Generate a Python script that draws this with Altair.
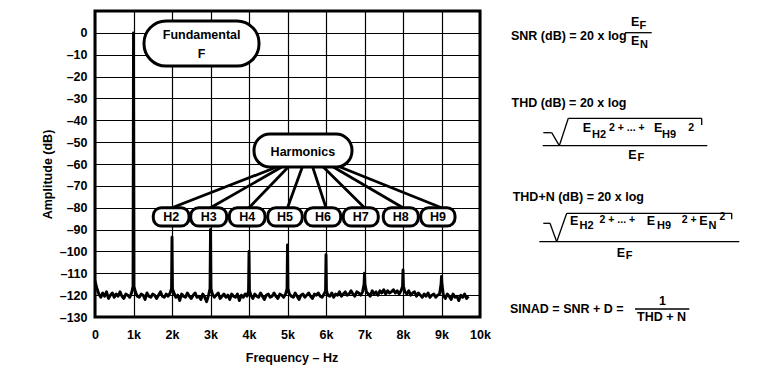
import altair as alt
import pandas as pd

FONT = "Liberation Sans"

# ---------------- spectrum data (kHz, dB) ----------------
NOISE_STEP_KHZ = 0.05
noise_db = [
    -113.5, -117.0, -119.5, -121.0, -119.0, -120.5, -118.5, -121.5, -120.0, -119.0,
    -121.0, -119.5, -120.5, -118.5, -120.5, -121.5, -119.5, -120.0, -121.0, -119.0,
    -119.0, -118.5, -120.5, -121.0, -119.5, -120.0, -122.0, -119.0, -120.5, -121.0,
    -119.5, -120.0, -121.5, -120.0, -118.5, -120.5, -121.0, -119.5, -120.5, -119.0,
    -118.5, -119.0, -121.0, -120.0, -122.5, -119.5, -120.5, -121.0, -119.0, -120.5,
    -121.5, -120.0, -119.0, -121.0, -120.5, -122.0, -119.5, -121.0, -123.0, -120.0,
    -119.0, -119.5, -121.0, -120.0, -119.0, -121.5, -120.5, -119.5, -121.0, -120.0,
    -122.0, -119.5, -120.5, -121.0, -119.5, -122.5, -120.0, -121.0, -119.5, -120.5,
    -119.0, -120.0, -121.5, -119.5, -120.5, -121.0, -119.0, -120.5, -122.0, -120.0,
    -119.5, -121.0, -120.5, -119.0, -120.5, -121.5, -119.5, -120.0, -121.0, -119.5,
    -119.0, -119.5, -120.5, -121.0, -119.0, -120.5, -122.0, -120.0, -119.5, -121.0,
    -120.0, -119.0, -120.5, -121.5, -119.5, -120.0, -119.0, -120.5, -121.0, -119.5,
    -119.0, -120.0, -120.5, -119.0, -121.0, -119.5, -120.0, -118.5, -120.5, -119.5,
    -118.5, -120.0, -119.5, -118.0, -119.5, -120.5, -118.5, -119.0, -120.0, -118.5,
    -119.0, -118.5, -119.5, -120.5, -118.0, -119.5, -118.5, -120.0, -118.0, -119.0,
    -117.5, -119.5, -118.0, -119.0, -118.5, -117.5, -119.0, -118.0, -119.5, -118.0,
    -118.0, -118.5, -119.5, -118.0, -120.0, -119.0, -118.5, -120.5, -119.0, -120.0,
    -121.0, -119.5, -120.5, -119.0, -121.0, -120.0, -119.5, -121.0, -120.0, -119.5,
    -119.0, -120.0, -121.5, -119.5, -120.5, -122.0, -119.5, -121.0, -120.5, -122.5,
    -120.0, -121.0, -119.5, -121.5, -120.5,
]
harmonic_khz = [1, 2, 3, 4, 5, 6, 7, 8, 9]
harmonic_peak_db = [0.0, -93.5, -90.0, -100.0, -97.0, -101.5, -110.0, -108.5, -111.5]
harmonic_base_db = [-116.0, -117.0, -117.0, -118.0, -117.0, -118.0, -115.0, -116.0, -115.0]
SPIKE_HALF_WIDTH = 0.012

rows = []
peak_of = dict(zip(harmonic_khz, zip(harmonic_peak_db, harmonic_base_db)))
for i, v in enumerate(noise_db):
    f = round(i * NOISE_STEP_KHZ, 3)
    if f in peak_of:
        pk, base = peak_of[f]
        rows += [(f - SPIKE_HALF_WIDTH, base), (f, pk), (f + SPIKE_HALF_WIDTH, base)]
    else:
        rows.append((f, v))
spectrum = pd.DataFrame(rows, columns=["f", "db"])

# ---------------- annotations (data coordinates) ----------------
h_labels = ["H2", "H3", "H4", "H5", "H6", "H7", "H8", "H9"]
h_box_left = [1.514, 2.486, 3.488, 4.486, 5.455, 6.449, 7.488, 8.460]
h_box_right = [2.442, 3.421, 4.416, 5.384, 6.382, 7.358, 8.397, 9.351]
h_box_top, h_box_bottom = -80.0, -88.4
h_line_start = [4.72, 4.85, 5.02, 5.385, 5.655, 5.93, 6.19, 6.364]
harm_box = dict(f=4.13, f2=6.675, db=-46.3, db2=-61.4)
fund_box = dict(f=1.273, f2=4.26, db=5.4, db2=-15.2)

h_boxes = pd.DataFrame({"f": h_box_left, "f2": h_box_right,
                        "db": h_box_top, "db2": h_box_bottom, "label": h_labels})
connectors = pd.DataFrame({"f": h_line_start, "db": harm_box["db2"],
                           "f2": harmonic_khz[1:], "db2": h_box_top})
box_text = pd.DataFrame({
    "label": ["Fundamental", "F", "Harmonics"] + h_labels,
    "f": [2.77, 2.77, 5.40] + [(a + b) / 2 for a, b in zip(h_box_left, h_box_right)],
    "db": [-1.1, -9.6, -54.6] + [-84.3] * 8,
})

# ---------------- formula layout (page pixels -> data coords) ----------------
OX, OY = 95, 11
W, H = 385, 306
X0, X1 = 0, 10
Y0, Y1 = -130, 10


def px_to_f(px):
    return X0 + (px - OX) * (X1 - X0) / W


def py_to_db(py):
    return Y1 - (py - OY) * (Y1 - Y0) / H


# (text, left x px, centre y px, size class)
pieces = [
    ("SNR (dB) = 20 x log", 511, 35.5, "big"),
    ("E", 631, 22, "big"), ("F", 639.5, 25.5, "sub"),
    ("E", 631, 40.5, "big"), ("N", 640, 45, "sub"),
    ("THD (dB) = 20 x log", 511.5, 102.5, "big"),
    ("E", 582.7, 128.3, "big"), ("H2", 592, 134.5, "sub"), ("2 + ... +", 609, 128, "small"),
    ("E", 654, 128.3, "big"), ("H9", 662, 134.5, "sub"), ("2", 688.3, 128, "small"),
    ("E", 628.3, 155, "big"), ("F", 637.5, 158.3, "sub"),
    ("THD+N (dB) = 20 x log", 512.7, 196.8, "big"),
    ("E", 570, 220.5, "big"), ("H2", 579.5, 226.3, "sub"), ("2 + ... +", 599.5, 219.5, "small"),
    ("E", 646.7, 220.5, "big"), ("H9", 657, 226.3, "sub"), ("2 +", 681.7, 219.5, "small"),
    ("E", 699.3, 220.5, "big"), ("N", 708.5, 226.3, "sub"), ("2", 719.5, 216.5, "small"),
    ("E", 616.7, 252.7, "big"), ("F", 625.8, 256, "sub"),
    ("SINAD = SNR + D =", 510, 308.5, "big"),
    ("1", 659, 300.5, "big"), ("THD + N", 637, 316.8, "big"),
]
formula_text = pd.DataFrame([(t, px_to_f(x), py_to_db(y), c) for t, x, y, c in pieces],
                            columns=["t", "f", "db", "cls"])

polylines = [
    [(625, 32.7), (651.7, 32.7)],
    [(543.3, 132.7), (551.7, 132.7), (559.3, 145.7), (568.3, 118.3), (701.7, 118.3), (701.7, 125)],
    [(542.7, 145.7), (707.3, 145.7)],
    [(543.3, 223.3), (550, 223.3), (556.7, 241.7), (566.7, 213.3), (731.7, 213.3), (731.7, 219.3)],
    [(539.3, 241.7), (739.3, 241.7)],
    [(635, 309), (689.3, 309)],
]
segs = []
for pl in polylines:
    for (x1, y1), (x2, y2) in zip(pl[:-1], pl[1:]):
        segs.append((px_to_f(x1), py_to_db(y1), px_to_f(x2), py_to_db(y2)))
formula_lines = pd.DataFrame(segs, columns=["f", "db", "f2", "db2"])

# ---------------- chart ----------------
xscale = alt.Scale(domain=[X0, X1], nice=False, zero=False)
yscale = alt.Scale(domain=[Y0, Y1], nice=False, zero=False)

base_axis = dict(labelFont=FONT, labelFontSize=12.5, labelFontWeight="bold", labelColor="black",
                 titleFont=FONT, titleFontSize=12.5, titleFontWeight="bold", titleColor="black",
                 grid=True, gridColor="black", gridWidth=1.2, gridOpacity=1,
                 domain=False, ticks=False, labelFlush=False, labelOverlap=False)

x_axis = alt.Axis(values=list(range(0, 11)), title="Frequency – Hz",
                  labelExpr="datum.value == 0 ? '0' : datum.value + 'k'",
                  labelPadding=11, titleX=196.5, titleY=40, titleAlign="center",
                  titleBaseline="middle", **base_axis)
y_axis = alt.Axis(values=list(range(-130, 20, 10)), title="Amplitude (dB)",
                  labelExpr="datum.value > 0 ? '' : (datum.value < 0 ? '–' + abs(datum.value) : '0')",
                  labelPadding=8, titleX=-48, titleY=163, titleAngle=270,
                  titleAlign="center", titleBaseline="middle", **base_axis)


def xy():
    return dict(x=alt.X("f:Q", scale=xscale, axis=x_axis, title="Frequency – Hz"),
                y=alt.Y("db:Q", scale=yscale, axis=y_axis, title="Amplitude (dB)"))


spec_line = alt.Chart(spectrum).mark_line(color="black", strokeWidth=2.9, strokeJoin="round").encode(**xy())

conn = alt.Chart(connectors).mark_rule(color="black", strokeWidth=2.8).encode(
    x2="f2:Q", y2="db2:Q", **xy())


def box(df, radius):
    return alt.Chart(df).mark_rect(fill="white", stroke="black", strokeWidth=3,
                                   cornerRadius=radius).encode(x2="f2:Q", y2="db2:Q", **xy())


fbox = box(pd.DataFrame([fund_box]), 22)
hbox = box(pd.DataFrame([harm_box]), 16)
hboxes = box(h_boxes, 8)

btext = alt.Chart(box_text).mark_text(font=FONT, fontSize=12.5, fontWeight="bold", color="black",
                                      baseline="middle", align="center").encode(
    text="label:N", **xy())

SIZES = {"big": 12.5, "sub": 11, "small": 10.5}
ftext_layers = [
    alt.Chart(formula_text).transform_filter(alt.datum.cls == cls).mark_text(
        font=FONT, fontSize=size, fontWeight="bold", color="black",
        baseline="middle", align="left").encode(text="t:N", **xy())
    for cls, size in SIZES.items()
]

flines = alt.Chart(formula_lines).mark_rule(color="black", strokeWidth=1.3).encode(
    x2="f2:Q", y2="db2:Q", **xy())

chart = alt.layer(spec_line, conn, fbox, hbox, hboxes, btext, *ftext_layers, flines).properties(
    width=W, height=H,
    padding={"left": OX, "top": OY, "right": 760 - OX - W, "bottom": 377 - OY - H},
    autosize=alt.AutoSizeParams(type="none"),
    background="white",
).configure_view(stroke="black", strokeWidth=3)

chart.save("out.html", embed_options={"renderer": "svg", "actions": False})
